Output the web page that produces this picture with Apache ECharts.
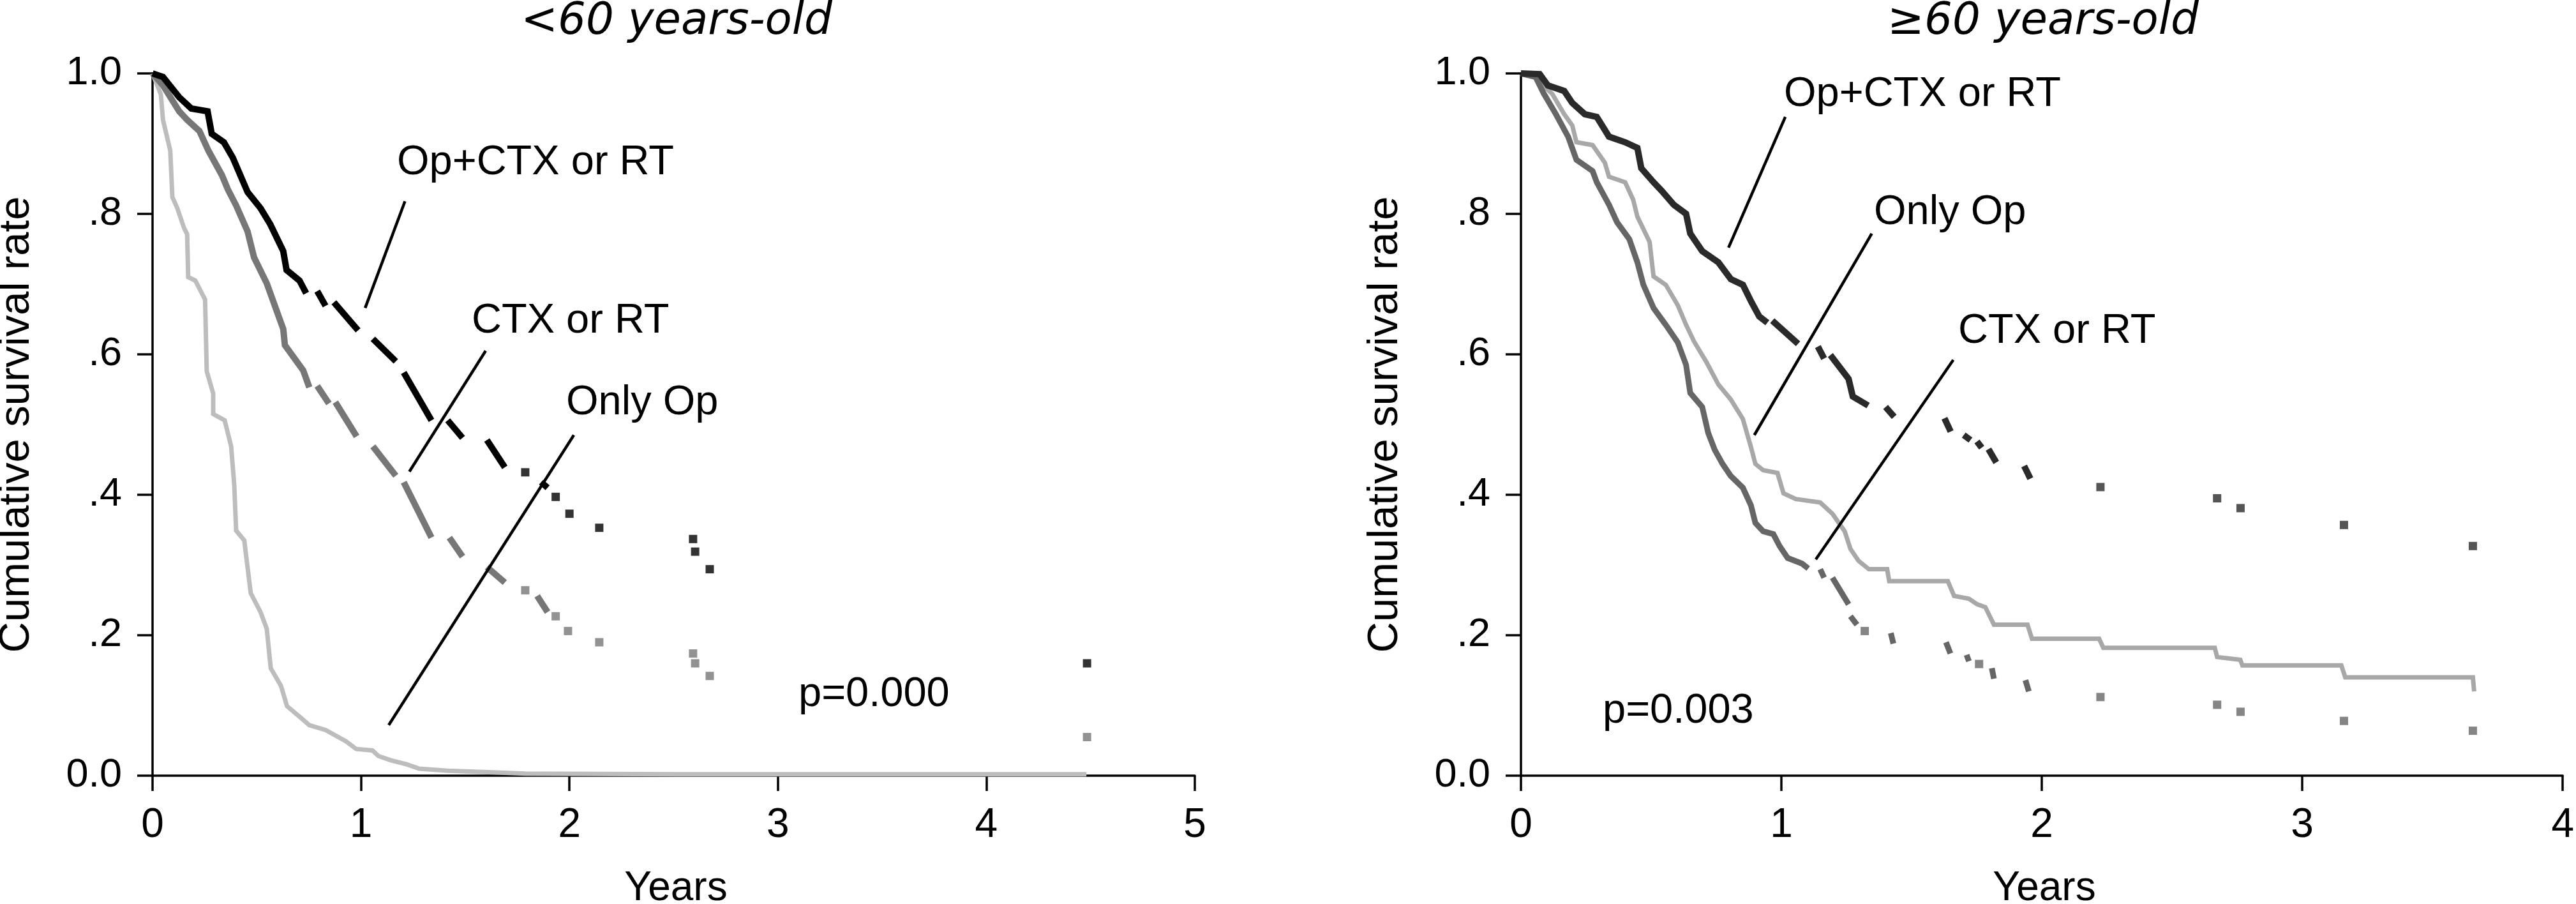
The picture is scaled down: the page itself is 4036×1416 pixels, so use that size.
<!DOCTYPE html>
<html>
<head>
<meta charset="utf-8">
<script src="https://cdn.jsdelivr.net/npm/echarts@6/dist/echarts.min.js"></script>
<style>
html,body{margin:0;padding:0;background:#fff;}
#chart{width:4036px;height:1416px;}
</style>
</head>
<body>
<div id="chart"></div>
<script>
// ---------- tick labels ----------
const yTickLabels = ['0.0', '.2', '.4', '.6', '.8', '1.0'];
const youngXMax = 5;
const oldXMax = 4;

// ---------- <60 years-old : [years, survival] fragments (single point = isolated mark) ----------
const youngOpCtx = [
  [[0,1.0],[0.05,0.995],[0.128,0.966],[0.186,0.95],[0.264,0.946],[0.284,0.914],[0.342,0.902],[0.385,0.88],[0.456,0.831],[0.518,0.808],[0.565,0.785],[0.627,0.747],[0.643,0.72],[0.705,0.705],[0.737,0.687]],
  [[0.79,0.69],[0.83,0.669]],
  [[0.87,0.674],[0.986,0.634]],
  [[1.057,0.622],[1.167,0.59]],
  [[1.205,0.574],[1.338,0.506]],
  [[1.416,0.506],[1.487,0.481]],
  [[1.604,0.478],[1.69,0.439]],
  [[1.788,0.432]],
  [[1.864,0.418],[1.895,0.41]],
  [[1.934,0.397]], [[2.0,0.373]], [[2.143,0.353]], [[2.593,0.337]], [[2.603,0.319]], [[2.673,0.294]], [[4.483,0.16]]
];
const youngCtx = [
  [[0,1.0],[0.05,0.983],[0.128,0.946],[0.166,0.934],[0.225,0.918],[0.268,0.89],[0.333,0.855],[0.361,0.835],[0.401,0.812],[0.456,0.775],[0.487,0.738],[0.548,0.701],[0.627,0.636],[0.635,0.613],[0.723,0.577],[0.752,0.553]],
  [[0.79,0.555],[0.846,0.53]],
  [[0.877,0.532],[0.979,0.483]],
  [[1.057,0.469],[1.167,0.427]],
  [[1.205,0.418],[1.338,0.339]],
  [[1.424,0.339],[1.487,0.312]],
  [[1.604,0.297],[1.69,0.275]],
  [[1.788,0.264]],
  [[1.845,0.256],[1.895,0.233]],
  [[1.934,0.227]], [[1.993,0.206]], [[2.143,0.19]], [[2.593,0.174]], [[2.603,0.16]], [[2.673,0.142]], [[4.483,0.055]]
];
const youngOnlyOp = [
  [[0,1.0],[0.04,0.97],[0.05,0.934],[0.085,0.89],[0.095,0.824],[0.119,0.808],[0.151,0.78],[0.166,0.771],[0.171,0.71],[0.205,0.705],[0.252,0.678],[0.26,0.576],[0.291,0.544],[0.291,0.515],[0.346,0.506],[0.377,0.469],[0.392,0.414],[0.401,0.349],[0.44,0.335],[0.471,0.26],[0.518,0.233],[0.548,0.209],[0.567,0.153],[0.616,0.128],[0.645,0.099],[0.713,0.082],[0.752,0.072],[0.83,0.065],[0.928,0.049],[0.977,0.038],[1.055,0.036],[1.084,0.028],[1.143,0.022],[1.221,0.016],[1.279,0.01],[1.416,0.007],[1.61,0.005],[1.788,0.003],[2.5,0.002],[4.48,0.002]]
];

// ---------- >=60 years-old ----------
const oldOpCtx = [
  [[0,1.0],[0.072,0.999],[0.103,0.983],[0.166,0.975],[0.197,0.958],[0.245,0.942],[0.291,0.938],[0.338,0.91],[0.4,0.902],[0.447,0.894],[0.462,0.865],[0.509,0.845],[0.54,0.833],[0.587,0.813],[0.634,0.8],[0.65,0.772],[0.696,0.747],[0.758,0.731],[0.806,0.707],[0.852,0.699],[0.884,0.675],[0.915,0.654],[0.946,0.645]],
  [[0.965,0.648],[1.064,0.615]],
  [[1.14,0.611],[1.164,0.594]],
  [[1.188,0.599],[1.258,0.565],[1.274,0.54],[1.333,0.527]],
  [[1.40,0.525],[1.433,0.511]],
  [[1.626,0.509],[1.65,0.49]],
  [[1.70,0.485],[1.726,0.478]],
  [[1.751,0.476],[1.769,0.467]],
  [[1.795,0.465],[1.825,0.446]],
  [[1.932,0.441],[1.956,0.423]],
  [[2.225,0.411]], [[2.673,0.395]], [[2.763,0.381]], [[3.16,0.357]], [[3.655,0.327]]
];
const oldCtx = [
  [[0,1.0],[0.056,0.995],[0.088,0.971],[0.134,0.942],[0.181,0.91],[0.213,0.877],[0.275,0.861],[0.291,0.845],[0.338,0.813],[0.369,0.788],[0.416,0.764],[0.447,0.731],[0.47,0.699],[0.509,0.666],[0.556,0.642],[0.602,0.617],[0.634,0.585],[0.65,0.545],[0.696,0.525],[0.719,0.488],[0.744,0.464],[0.774,0.444],[0.805,0.427],[0.852,0.41],[0.883,0.385],[0.9,0.36],[0.93,0.348],[0.969,0.344],[0.993,0.327],[1.024,0.31],[1.079,0.302],[1.103,0.295]],
  [[1.149,0.294],[1.164,0.282]],
  [[1.196,0.282],[1.258,0.244]],
  [[1.265,0.227],[1.29,0.215]],
  [[1.32,0.206]],
  [[1.42,0.203],[1.43,0.188]],
  [[1.632,0.19],[1.649,0.174]],
  [[1.711,0.172],[1.72,0.163]],
  [[1.759,0.159]],
  [[1.808,0.153],[1.816,0.138]],
  [[1.937,0.136],[1.95,0.12]],
  [[2.225,0.112]], [[2.673,0.101]], [[2.763,0.091]], [[3.16,0.078]], [[3.655,0.064]]
];
const oldOnlyOp = [
  [[0,1.0],[0.042,0.999],[0.072,0.987],[0.12,0.971],[0.166,0.942],[0.197,0.926],[0.213,0.902],[0.275,0.898],[0.322,0.873],[0.338,0.853],[0.4,0.845],[0.431,0.82],[0.447,0.796],[0.494,0.76],[0.509,0.711],[0.556,0.699],[0.602,0.67],[0.634,0.642],[0.665,0.618],[0.712,0.589],[0.758,0.557],[0.805,0.536],[0.852,0.508],[0.883,0.468],[0.9,0.444],[0.93,0.435],[0.985,0.431],[1.008,0.402],[1.055,0.394],[1.149,0.389],[1.196,0.373],[1.243,0.348],[1.265,0.323],[1.296,0.306],[1.336,0.294],[1.406,0.294],[1.414,0.277],[1.639,0.277],[1.663,0.256],[1.72,0.252],[1.752,0.244],[1.783,0.24],[1.816,0.215],[1.945,0.215],[1.962,0.195],[2.22,0.195],[2.236,0.182],[2.664,0.182],[2.673,0.169],[2.762,0.165],[2.77,0.157],[3.15,0.157],[3.165,0.14],[3.655,0.14],[3.66,0.12]]
];

// ---------- leader lines (data coordinates) ----------
const youngLeaders = [
  [[1.211,0.818],[1.02,0.666]],
  [[1.598,0.605],[1.232,0.433]],
  [[2.021,0.485],[1.133,0.072]]
];
const oldLeaders = [
  [[1.015,0.938],[0.797,0.752]],
  [[1.347,0.772],[0.896,0.485]],
  [[1.66,0.592],[1.132,0.308]]
];

// ---------- texts ----------
const titles = ['<60 years-old', '\u226560 years-old'];
const youngLabels = ['Op+CTX or RT', 'CTX or RT', 'Only Op', 'p=0.000'];
const oldLabels = ['Op+CTX or RT', 'Only Op', 'CTX or RT', 'p=0.003'];
const yName = 'Cumulative survival rate';
const xName = 'Years';

const FONT = "'Liberation Sans', Arial, sans-serif";

function curveSeries(frags, color, width, g, z) {
  const out = [];
  const singles = [];
  frags.forEach(f => {
    if (f.length === 1) singles.push(f[0]);
    else out.push({
      type: 'line', xAxisIndex: g, yAxisIndex: g, data: f,
      symbol: 'none', showSymbol: false, silent: true, z: z,
      lineStyle: { color: color, width: width, cap: 'butt', join: 'miter' }
    });
  });
  if (singles.length) out.push({
    type: 'scatter', xAxisIndex: g, yAxisIndex: g, data: singles,
    symbol: 'rect', symbolSize: 13, silent: true, z: z,
    itemStyle: { color: color }
  });
  return out;
}
function leaderSeries(lines, g) {
  return lines.map(l => ({
    type: 'line', xAxisIndex: g, yAxisIndex: g, data: l,
    symbol: 'none', showSymbol: false, silent: true, z: 10,
    lineStyle: { color: '#000', width: 4.5, cap: 'butt' }
  }));
}
function xAxisOf(g, max) {
  return {
    type: 'value', gridIndex: g, min: 0, max: max, interval: 1,
    axisLine: { show: true, onZero: false, lineStyle: { color: '#000', width: 3.5 } },
    axisTick: { show: true, inside: false, length: 24, lineStyle: { color: '#000', width: 3.5 } },
    axisLabel: { show: true, color: '#000', fontSize: 64, fontFamily: FONT, margin: 46 },
    splitLine: { show: false }
  };
}
function yAxisOf(g) {
  return {
    type: 'value', gridIndex: g, min: 0, max: 1, interval: 0.2,
    axisLine: { show: true, onZero: false, lineStyle: { color: '#000', width: 3.5 } },
    axisTick: { show: true, inside: false, length: 24, lineStyle: { color: '#000', width: 3.5 } },
    axisLabel: {
      show: true, color: '#000', fontSize: 63, fontFamily: FONT, margin: 48,
      formatter: v => yTickLabels[Math.round(v / 0.2)]
    },
    splitLine: { show: false }
  };
}
function txt(s, x, y, size, opts) {
  opts = opts || {};
  return {
    type: 'text', x: x, y: y, rotation: opts.rotation || 0, silent: true, z: 20,
    style: {
      text: s, fill: '#000',
      font: (opts.italic ? 'italic ' : '') + size + 'px ' + (opts.family || FONT),
      textAlign: opts.align || 'left', textVerticalAlign: 'middle',
      align: opts.align || 'left', verticalAlign: 'middle'
    }
  };
}

const series = [].concat(
  curveSeries(youngOnlyOp, '#bdbdbd', 7, 0, 2),
  curveSeries(youngCtx, '#777777', 10, 0, 3),
  curveSeries(youngOpCtx, '#000000', 10, 0, 4),
  leaderSeries(youngLeaders, 0),
  curveSeries(oldOnlyOp, '#a8a8a8', 7, 1, 2),
  curveSeries(oldCtx, '#666666', 9, 1, 3),
  curveSeries(oldOpCtx, '#2a2a2a', 10, 1, 4),
  leaderSeries(oldLeaders, 1)
);

const TITLE_FAMILY = "'DejaVu Sans', sans-serif";
const graphic = [
  txt(titles[0], 1060, 35, 69, { italic: true, align: 'center', family: TITLE_FAMILY }),
  txt(titles[1], 3201, 35, 69, { italic: true, align: 'center', family: TITLE_FAMILY }),
  txt(yName, 27, 665, 67, { align: 'center', rotation: Math.PI / 2 }),
  txt(yName, 2171, 665, 67, { align: 'center', rotation: Math.PI / 2 }),
  txt(xName, 1059, 1392, 64, { align: 'center' }),
  txt(xName, 3203, 1392, 64, { align: 'center' }),
  txt(youngLabels[0], 622, 255, 65),
  txt(youngLabels[1], 739, 503, 65),
  txt(youngLabels[2], 887, 631, 65),
  txt(youngLabels[3], 1251, 1088, 65),
  txt(oldLabels[0], 2795, 148, 65),
  txt(oldLabels[1], 2936, 333, 65),
  txt(oldLabels[2], 3068, 519, 65),
  txt(oldLabels[3], 2511, 1114, 65)
];

const chart = echarts.init(document.getElementById('chart'), null, { renderer: 'canvas' });
chart.setOption({
  animation: false,
  backgroundColor: '#ffffff',
  grid: [
    { left: 239, top: 115, width: 1633, height: 1100, containLabel: false },
    { left: 2383, top: 115, width: 1636, height: 1100, containLabel: false }
  ],
  xAxis: [xAxisOf(0, youngXMax), xAxisOf(1, oldXMax)],
  yAxis: [yAxisOf(0), yAxisOf(1)],
  series: series,
  graphic: graphic
});
</script>
</body>
</html>
